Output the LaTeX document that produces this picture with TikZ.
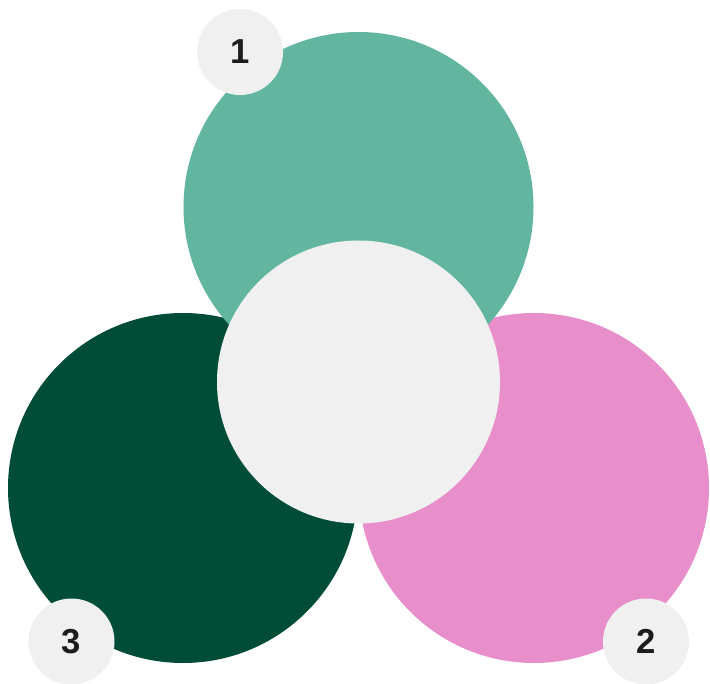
\documentclass[tikz,border=0pt]{standalone}
\usepackage{fontspec}
\setmainfont{Liberation Sans}
\definecolor{teal1}{HTML}{62B6A0}
\definecolor{dark1}{HTML}{004D37}
\definecolor{pink1}{HTML}{E88ECB}
\definecolor{grey1}{HTML}{F0F0F0}
\definecolor{txt1}{HTML}{1C1C1C}
\tikzset{
  big/.style={circle, minimum size=350*0.75pt, inner sep=0pt, draw=none},
  mid/.style={circle, fill=grey1, minimum size=283*0.75pt, inner sep=0pt, draw=none},
  badge/.style={circle, fill=grey1, minimum size=86*0.75pt, inner sep=0pt, draw=none,
    font=\fontsize{26pt}{26pt}\selectfont\bfseries, text=txt1}
}
\begin{document}
\begin{tikzpicture}[x=0.75pt,y=-0.75pt]
\useasboundingbox (0,0) rectangle (710,684);
\node[big, fill=dark1] (c3) at (183,488) {};
\node[big, fill=pink1] (c2) at (534,488) {};
\node[big, fill=teal1] (c1) at (358.5,207) {};
\node[mid] (cm) at (358.5,382) {};
\node[badge] (b1) at (240,52) {1};
\node[badge] (b3) at (71.5,641.5) {3};
\node[badge] (b2) at (646,641.5) {2};
\end{tikzpicture}
\end{document}
